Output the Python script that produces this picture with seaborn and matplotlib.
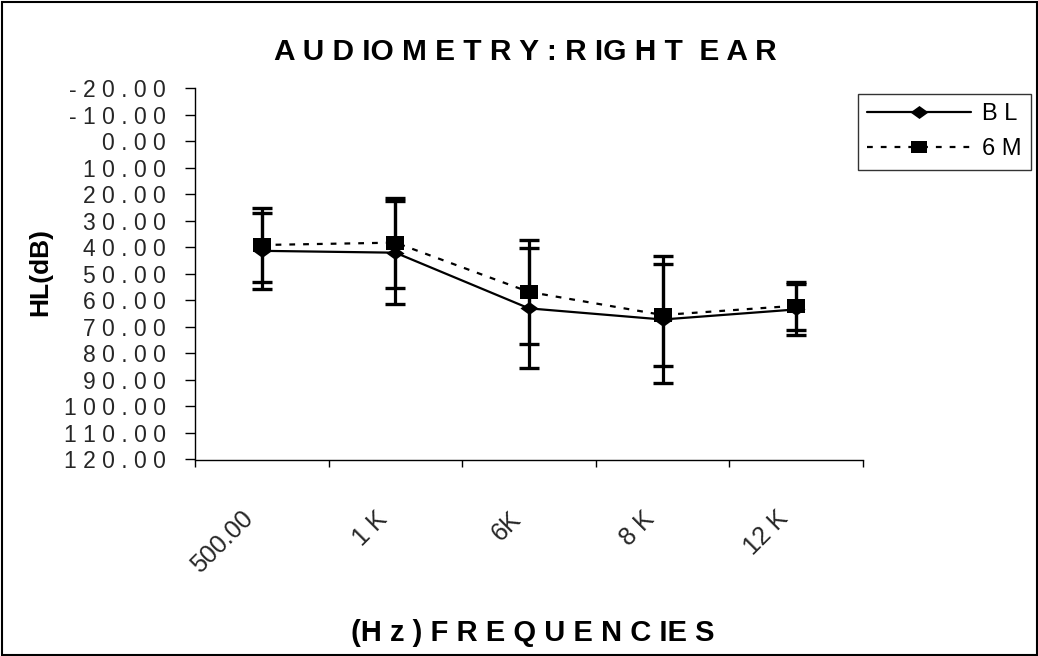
import numpy as np
import pandas as pd
import matplotlib
matplotlib.use("Agg")
import matplotlib.pyplot as plt
import matplotlib.transforms as mtransforms
from matplotlib.patches import Rectangle
from matplotlib.lines import Line2D
from matplotlib.markers import MarkerStyle
import seaborn as sns

# Audiometry results, right ear: hearing level (dB) per test frequency
frequencies = ["500.00", "1 K", "6K", "8 K", "12 K"]
bl_mean = [41.3, 42.0, 63.0, 67.2, 63.4]
bl_sd = [14.3, 19.5, 22.6, 23.9, 9.5]
m6_mean = [39.1, 38.2, 56.8, 65.5, 62.0]
m6_sd = [13.9, 17.0, 19.6, 19.3, 9.0]
series_names = ["B L", "6 M"]
y_ticks = list(range(-20, 121, 10))

sns.set_theme(style="white")
plt.rcParams["font.family"] = ["Liberation Sans", "DejaVu Sans"]
plt.rcParams["text.color"] = "black"

W, H = 1038, 656
fig = plt.figure(figsize=(W / 100, H / 100), dpi=100)
fig.patch.set_facecolor("white")
ax = fig.add_axes([195 / W, 1 - 459.5 / H, (863 - 195) / W, (459.5 - 88.3) / H])
ax.set_facecolor("white")

pos = np.arange(len(frequencies))
df = pd.DataFrame({
    "pos": np.concatenate([pos, pos]),
    "hl": bl_mean + m6_mean,
    "series": [series_names[0]] * len(pos) + [series_names[1]] * len(pos),
})

diamond = [(-1, 0), (0, 0.72), (1, 0), (0, -0.72), (-1, 0)]
rect = [(-1, -0.8), (1, -0.8), (1, 0.8), (-1, 0.8), (-1, -0.8)]
marker_map = {series_names[0]: diamond, series_names[1]: rect}
dash_map = {series_names[0]: "", series_names[1]: (2.6, 3.6)}

sns.lineplot(data=df, x="pos", y="hl", hue="series", style="series",
             palette=["black", "black"], markers=marker_map, dashes=dash_map,
             markersize=13, linewidth=1.6, markeredgewidth=0,
             ax=ax, legend=False, zorder=3)

for mean, sd in [(bl_mean, bl_sd), (m6_mean, m6_sd)]:
    ax.errorbar(pos, mean, yerr=sd, fmt="none", ecolor="black",
                elinewidth=2.3, capsize=7, capthick=2.4, zorder=2)

# axes: inverted hearing-level scale, categories between boundary ticks
ax.set_xlim(-0.5, len(frequencies) - 0.5)
ax.set_ylim(120, -20)
ax.set_yticks(y_ticks)
ax.set_yticklabels([" ".join(f"{v:.2f}") for v in y_ticks], fontsize=16.5)
ax.tick_params(axis="y", direction="out", length=7, width=1, color="black",
               pad=14, left=True)

ax.set_xticks(np.arange(-0.5, len(frequencies)), labels=[""] * (len(frequencies) + 1))
ax.set_xticks(pos, minor=True)
ax.set_xticklabels(frequencies, minor=True, fontsize=18, rotation=45,
                   ha="right", va="center", rotation_mode="anchor")
ax.tick_params(axis="x", which="major", direction="out", length=5, width=1,
               color="black", bottom=True)
ax.tick_params(axis="x", which="minor", length=0, pad=40)
shift = mtransforms.ScaledTranslation(-12 / 100, 0, fig.dpi_scale_trans)
for lbl in ax.xaxis.get_minorticklabels():
    lbl.set_transform(lbl.get_transform() + shift)

for side in ["top", "right"]:
    ax.spines[side].set_visible(False)
for side in ["left", "bottom"]:
    ax.spines[side].set_color("black")
    ax.spines[side].set_linewidth(1.0)
ax.grid(False)

ax.set_xlabel("")
ax.set_ylabel("")
fig.text(525 / W, 1 - 52 / H, "A U D IO M E T R Y : R IG H T  E A R",
         ha="center", va="center", fontsize=21.5, fontweight="bold")
fig.text(533 / W, 1 - 633 / H, "(H z ) F R E Q U E N C IE S",
         ha="center", va="center", fontsize=21, fontweight="bold")
fig.text(40 / W, 1 - 272 / H, "HL(dB)", ha="center", va="center",
         rotation=90, fontsize=19, fontweight="bold")

handles = [
    Line2D([], [], color="black", lw=1.6, marker=MarkerStyle(diamond),
           markersize=13, markeredgewidth=0),
    Line2D([], [], color="black", lw=1.6, dashes=(2.6, 3.6),
           marker=MarkerStyle(rect), markersize=11, markeredgewidth=0),
]
leg = ax.legend(handles, series_names, loc="upper left",
                bbox_to_anchor=(858 / W, 1 - 94 / H),
                bbox_transform=fig.transFigure, frameon=True, fancybox=False,
                edgecolor="black", fontsize=17, handlelength=4.4,
                handletextpad=0.45, borderpad=0.4, labelspacing=0.55,
                borderaxespad=0)
leg.get_frame().set_linewidth(1.0)

fig.patches.append(Rectangle((1.5 / W, 1.5 / H), 1 - 3 / W, 1 - 3 / H,
                             transform=fig.transFigure, fill=False,
                             edgecolor="black", linewidth=1.5))

fig.savefig("out.png", dpi=100)
